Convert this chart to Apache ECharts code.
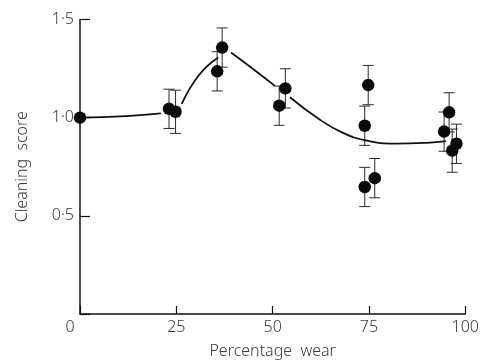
<!DOCTYPE html>
<html>
<head>
<meta charset="utf-8">
<script src="https://cdn.jsdelivr.net/npm/echarts@6/dist/echarts.min.js"></script>
<style>
  html, body { margin: 0; padding: 0; background: #fff; }
  #chart { width: 483px; height: 364px; }
</style>
</head>
<body>
<div id="chart"></div>
<script>
// Measured cleaning scores against percentage wear
const pointX   = [0, 23.1, 24.8, 36.9, 35.6, 53.3, 51.7, 74.8, 73.9, 73.9, 76.5, 95.8, 94.5, 97.7, 96.6];
const pointY   = [1.0, 1.045, 1.03, 1.357, 1.236, 1.149, 1.061, 1.166, 0.959, 0.647, 0.692, 1.027, 0.929, 0.867, 0.832];
const pointErr = [0, 0.1, 0.11, 0.1, 0.1, 0.1, 0.1, 0.1, 0.1, 0.1, 0.1, 0.1, 0.1, 0.1, 0.11];

// Fitted trend curve; null marks a break in the drawn line
const curveX = [0, 12, 21, null, 26.4, 31, 35.9, null, 39.2, 45, 50.6, null, 54.5, 62, 68, 74, 82, 90, 95];
const curveY = [1.0, 1.008, 1.022, null, 1.07, 1.22, 1.307, null, 1.332, 1.247, 1.162, null, 1.104, 0.993, 0.925, 0.885, 0.868, 0.872, 0.88];

const xTicks = [0, 25, 50, 75, 100];
const yTicks = [0, 0.5, 1.0, 1.5];

const FONT = '"Noto Sans", "DejaVu Sans", sans-serif';
const INK = '#111';
const TEXT = '#3a3a3a';

// split curve into continuous segments
const segments = [];
let cur = [];
curveX.forEach((x, i) => {
  if (x === null) { if (cur.length) segments.push(cur); cur = []; }
  else cur.push([x, curveY[i]]);
});
if (cur.length) segments.push(cur);

const errData = pointX.map((x, i) => [x, pointY[i] - pointErr[i], pointY[i] + pointErr[i]])
  .filter((d, i) => pointErr[i] > 0);

const series = [];
segments.forEach(seg => {
  series.push({
    type: 'line', data: seg, smooth: 0.5, symbol: 'none',
    lineStyle: { color: INK, width: 1.8 }, z: 2, silent: true
  });
});
series.push({
  type: 'custom',
  data: errData,
  z: 3,
  clip: false,
  renderItem: function (params, api) {
    const x = api.value(0);
    const lo = api.coord([x, api.value(1)]);
    const hi = api.coord([x, api.value(2)]);
    const cap = 5.5;
    const style = { stroke: '#2a2a2a', lineWidth: 1 };
    return {
      type: 'group',
      children: [
        { type: 'line', shape: { x1: lo[0], y1: lo[1], x2: hi[0], y2: hi[1] }, style },
        { type: 'line', shape: { x1: lo[0] - cap, y1: lo[1], x2: lo[0] + cap, y2: lo[1] }, style },
        { type: 'line', shape: { x1: hi[0] - cap, y1: hi[1], x2: hi[0] + cap, y2: hi[1] }, style }
      ]
    };
  }
});
series.push({
  type: 'scatter',
  data: pointX.map((x, i) => [x, pointY[i]]),
  symbol: 'circle',
  symbolSize: 12.5,
  itemStyle: { color: '#0a0a0a', opacity: 1 },
  z: 4,
  clip: false
});

const chart = echarts.init(document.getElementById('chart'), null, { renderer: 'canvas' });
chart.setOption({
  animation: false,
  backgroundColor: '#fff',
  grid: { left: 80, right: 17.7, top: 19.5, bottom: 48.3 },
  xAxis: {
    type: 'value', min: 0, max: 100, interval: 25,
    name: 'Percentage  wear', nameLocation: 'middle', nameGap: 29,
    nameTextStyle: { fontFamily: FONT, fontSize: 16, color: TEXT, fontWeight: 300 },
    axisLine: { show: true, lineStyle: { color: INK, width: 1.5 } },
    axisTick: { show: true, inside: true, length: 8, lineStyle: { color: INK, width: 1.2 } },
    splitLine: { show: false },
    axisLabel: {
      margin: 5,
      fontFamily: FONT, fontSize: 16, color: TEXT, fontWeight: 300,
      formatter: v => xTicks.includes(v) ? (v === 0 ? '{o|0}' : String(v)) : '',
      rich: { o: { fontFamily: FONT, fontSize: 16, color: TEXT, fontWeight: 300, padding: [0, 20, 0, 0] } }
    }
  },
  yAxis: {
    type: 'value', min: 0, max: 1.5, interval: 0.5,
    name: 'Cleaning  score', nameLocation: 'middle', nameGap: 50,
    nameTextStyle: { fontFamily: FONT, fontSize: 16, color: TEXT, fontWeight: 300 },
    axisLine: { show: true, lineStyle: { color: INK, width: 1.5 } },
    axisTick: { show: true, inside: true, length: 10, lineStyle: { color: INK, width: 1.2 } },
    splitLine: { show: false },
    axisLabel: {
      margin: 6,
      fontFamily: FONT, fontSize: 16, color: TEXT, fontWeight: 300,
      formatter: v => (v === 0 || !yTicks.includes(v)) ? '' : v.toFixed(1).replace('.', '\u00b7')
    }
  },
  series
});
</script>
</body>
</html>
